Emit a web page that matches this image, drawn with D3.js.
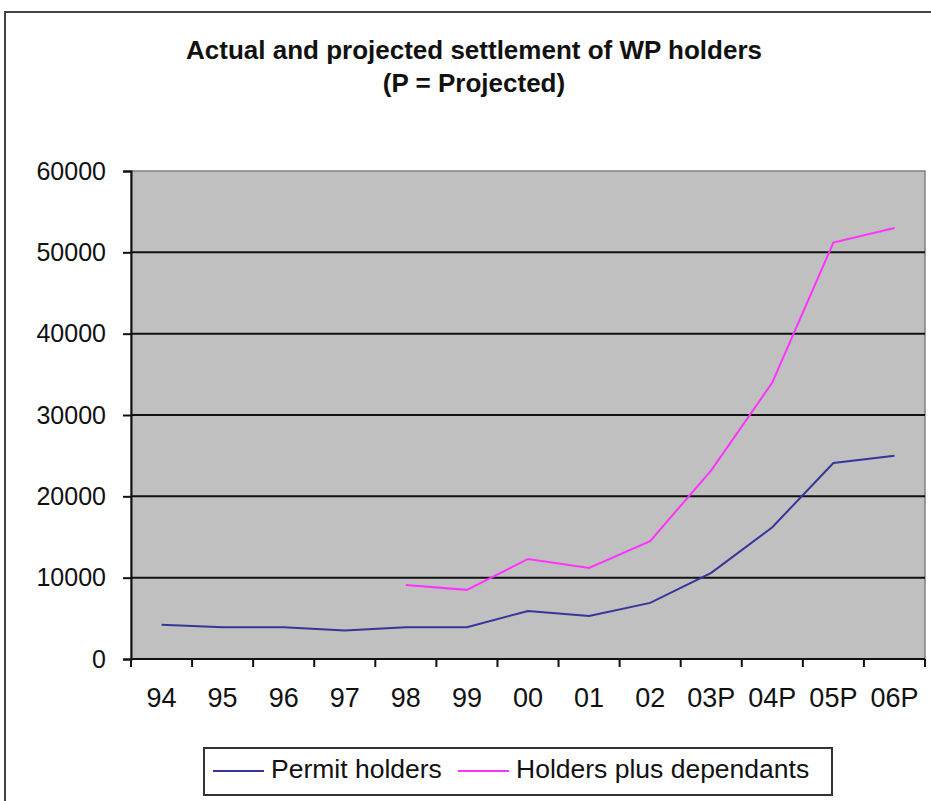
<!DOCTYPE html>
<html>
<head>
<meta charset="utf-8">
<script src="https://cdn.jsdelivr.net/npm/d3@7/dist/d3.min.js"></script>
<style>
  body { margin: 0; background: #fff; }
  text { font-family: "Liberation Sans", Arial, sans-serif; fill: #111; }
</style>
</head>
<body>
<div id="chartContainer"></div>
<script>
// data
const years = ["94", "95", "96", "97", "98", "99", "00", "01", "02", "03P", "04P", "05P", "06P"];
const permitHolders = [4200, 3900, 3900, 3500, 3900, 3900, 5900, 5300, 6900, 10600, 16200, 24100, 25000];
const holdersPlusDependants = [null, null, null, null, 9100, 8500, 12300, 11200, 14500, 23200, 34000, 51200, 53000];
const yTicks = [0, 10000, 20000, 30000, 40000, 50000, 60000];

function initializeLineChart(){

	let svg = d3.select("#chartContainer")
		.append("svg")
		.attr("width", 931)
		.attr("height", 801);

	// outer chart frame
	svg.append("rect")
		.attr("x", 5)
		.attr("y", 12)
		.attr("width", 940)
		.attr("height", 800)
		.attr("fill", "#fff")
		.attr("stroke", "#444")
		.attr("stroke-width", 2);

	svg.append("text")
		.attr("x", 474)
		.attr("y", 59)
		.attr("text-anchor", "middle")
		.attr("font-size", 26)
		.attr("font-weight", "bold")
		.text("Actual and projected settlement of WP holders");

	svg.append("text")
		.attr("x", 474)
		.attr("y", 92)
		.attr("text-anchor", "middle")
		.attr("font-size", 26)
		.attr("font-weight", "bold")
		.text("(P = Projected)");

	let left = 131, right = 925, top = 171, bottom = 659;

	let xScale = d3.scaleBand()
		.domain(years)
		.range([left, right]);

	let yScale = d3.scaleLinear()
		.domain([0, 60000])
		.range([bottom, top]);

	svg.append("rect")
		.attr("x", left)
		.attr("y", top)
		.attr("width", right - left)
		.attr("height", bottom - top)
		.attr("fill", "#c0c0c0")
		.attr("stroke", "#808080")
		.attr("stroke-width", 1.5);

	svg.append("g")
		.selectAll("line")
		.data(yTicks.filter(d => d > 0 && d < 60000))
		.join("line")
		.attr("x1", left)
		.attr("x2", right)
		.attr("y1", d => yScale(d))
		.attr("y2", d => yScale(d))
		.attr("stroke", "#111")
		.attr("stroke-width", 2);

	let yAxis = svg.append("g")
		.attr("transform", `translate(${left}, 0)`)
		.call(d3.axisLeft(yScale).tickValues(yTicks).tickFormat(d3.format("d")).tickSize(8).tickPadding(17));

	let xAxis = svg.append("g")
		.attr("transform", `translate(0, ${bottom})`)
		.call(d3.axisBottom(xScale).tickSize(0).tickPadding(29));

	// category boundary ticks
	xAxis.selectAll(".boundary")
		.data(years.concat([null]))
		.join("line")
		.attr("class", "boundary")
		.attr("x1", (d, i) => left + i * xScale.step())
		.attr("x2", (d, i) => left + i * xScale.step())
		.attr("y1", 0)
		.attr("y2", 8)
		.attr("stroke", "#111")
		.attr("stroke-width", 2);

	[yAxis, xAxis].forEach(a => {
		a.selectAll(".domain").attr("stroke", "#111").attr("stroke-width", 2);
		a.selectAll(".tick line").attr("stroke", "#111").attr("stroke-width", 2);
		a.selectAll("text").attr("fill", "#111")
			.attr("font-family", "'Liberation Sans', Arial, sans-serif");
	});
	yAxis.selectAll("text").attr("font-size", 25);
	xAxis.selectAll("text").attr("font-size", 27);
	xAxis.select(".domain").attr("d", `M${left},0H${right}`);

	let line = d3.line()
		.defined(d => d.v != null)
		.x(d => xScale(d.year) + xScale.bandwidth() / 2)
		.y(d => yScale(d.v));

	let series = [
		{name: "Permit holders", color: "#35359a", values: permitHolders},
		{name: "Holders plus dependants", color: "#ff33ff", values: holdersPlusDependants}
	];

	series.forEach(s => {
		svg.append("path")
			.datum(years.map((y, i) => ({year: y, v: s.values[i]})))
			.attr("fill", "none")
			.attr("stroke", s.color)
			.attr("stroke-width", 2)
			.attr("d", line);
	});

	// legend
	let legend = svg.append("g");
	legend.append("rect")
		.attr("x", 204)
		.attr("y", 748)
		.attr("width", 628)
		.attr("height", 47)
		.attr("fill", "#fff")
		.attr("stroke", "#333")
		.attr("stroke-width", 2);

	let legendX = [213, 458];
	series.forEach((s, i) => {
		legend.append("line")
			.attr("x1", legendX[i])
			.attr("x2", legendX[i] + 51)
			.attr("y1", 771)
			.attr("y2", 771)
			.attr("stroke", s.color)
			.attr("stroke-width", 2);
		legend.append("text")
			.attr("x", legendX[i] + 58)
			.attr("y", 778)
			.attr("font-size", 26.5)
			.text(s.name);
	});
}

initializeLineChart();
</script>
</body>
</html>
